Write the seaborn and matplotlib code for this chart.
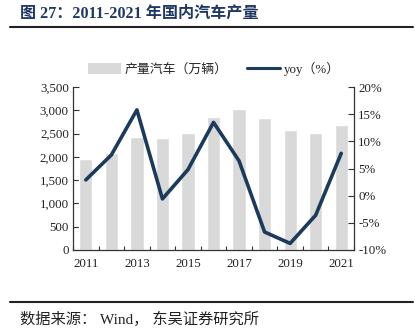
import matplotlib
matplotlib.use("Agg")
import matplotlib.pyplot as plt
import seaborn as sns
import numpy as np
import pandas as pd
from matplotlib.lines import Line2D
from matplotlib.patches import Patch
from matplotlib.ticker import FuncFormatter, FixedLocator

years = ["2011", "2012", "2013", "2014", "2015", "2016", "2017", "2018", "2019", "2020", "2021"]
production = [1953, 2081, 2424, 2402, 2523, 2851, 3037, 2830, 2588, 2509, 2687]
yoy = [2.9, 7.5, 15.8, -0.6, 4.8, 13.5, 6.4, -6.7, -8.8, -3.6, 7.8]
tick_years = ["2011", "2013", "2015", "2017", "2019", "2021"]

sns.set_theme(style="white")
FONT = ["Liberation Serif", "Noto Sans CJK SC", "DejaVu Sans"]
plt.rcParams["font.family"] = FONT

BAR = "#d9d9d9"
LINE = "#1b3a5c"
TXT = "#222222"
TICKSIZE = 9.3

df = pd.DataFrame({"year": years, "prod": production, "yoy": yoy, "pos": np.arange(len(years))})

fig = plt.figure(figsize=(4.15, 3.35), dpi=100)
ax = fig.add_axes([0.176, 0.254, 0.677, 0.486])
sns.barplot(data=df, x="year", y="prod", color=BAR, width=0.52, saturation=1, ax=ax, zorder=1)
ax.set_xlim(-0.5, len(years) - 0.5)
ax.set_ylim(0, 3500)
ax.set_yticks(np.arange(0, 3501, 500))
ax.yaxis.set_major_formatter(FuncFormatter(lambda v, p: f"{int(v):,}"))
ax.set_xlabel("")
ax.set_ylabel("")

idx = [years.index(t) for t in tick_years]
ax.xaxis.set_major_locator(FixedLocator(idx))
ax.set_xticklabels(tick_years)
ax.xaxis.set_minor_locator(FixedLocator(np.arange(-0.5, len(years), 1.0)))
ax.tick_params(axis="x", which="major", length=0, pad=6, labelsize=TICKSIZE, labelcolor=TXT)
ax.tick_params(axis="x", which="minor", direction="in", length=3, width=0.8, color="#333333", bottom=True)
ax.tick_params(axis="y", direction="in", length=4, width=0.8, color="#333333", left=True, labelsize=TICKSIZE, labelcolor=TXT, pad=3)

ax2 = ax.twinx()
sns.lineplot(data=df, x="pos", y="yoy", color=LINE, linewidth=2.6, ax=ax2, zorder=3)
ax2.set_ylim(-10, 20)
ax2.set_yticks(np.arange(-10, 21, 5))
ax2.yaxis.set_major_formatter(FuncFormatter(lambda v, p: f"{int(v)}%"))
ax2.set_xlim(-0.5, len(years) - 0.5)
ax2.set_xlabel("")
ax2.set_ylabel("")
ax2.tick_params(axis="y", direction="in", length=4, width=0.8, color="#333333", right=True, labelsize=TICKSIZE, labelcolor=TXT, pad=3)

for a in (ax, ax2):
    a.spines["top"].set_visible(False)
    for s in ("left", "right", "bottom"):
        a.spines[s].set_color("#333333")
        a.spines[s].set_linewidth(0.9)
ax.spines["right"].set_visible(False)
ax2.spines["left"].set_visible(False)
ax2.spines["bottom"].set_visible(False)

handles = [Patch(facecolor=BAR, edgecolor="none", label="产量汽车（万辆）"),
           Line2D([0], [0], color=LINE, linewidth=2.2, label="yoy（%）")]
fig.legend(handles=handles, loc="center", bbox_to_anchor=(0.515, 1 - 69 / 335), ncol=2, frameon=False,
           handlelength=2.6, handleheight=0.9, columnspacing=1.5, handletextpad=0.25,
           prop={"family": FONT, "size": 9.3})

fig.text(20 / 415, 1 - 14 / 335, "图 27：2011-2021 年国内汽车产量", fontsize=11.6, fontweight="bold",
         color="#1f3864", va="center", ha="left", family=FONT)
fig.add_artist(Line2D([10 / 415, 413 / 415], [1 - 27 / 335, 1 - 27 / 335], color="#222222", linewidth=1.5))
fig.add_artist(Line2D([10 / 415, 413 / 415], [1 - 302 / 335, 1 - 302 / 335], color="#222222", linewidth=1.5))
fig.text(20 / 415, 1 - 319 / 335, "数据来源： Wind， 东吴证券研究所", fontsize=11, color=TXT,
         va="center", ha="left", family=FONT)

fig.savefig("out.png", dpi=100)
